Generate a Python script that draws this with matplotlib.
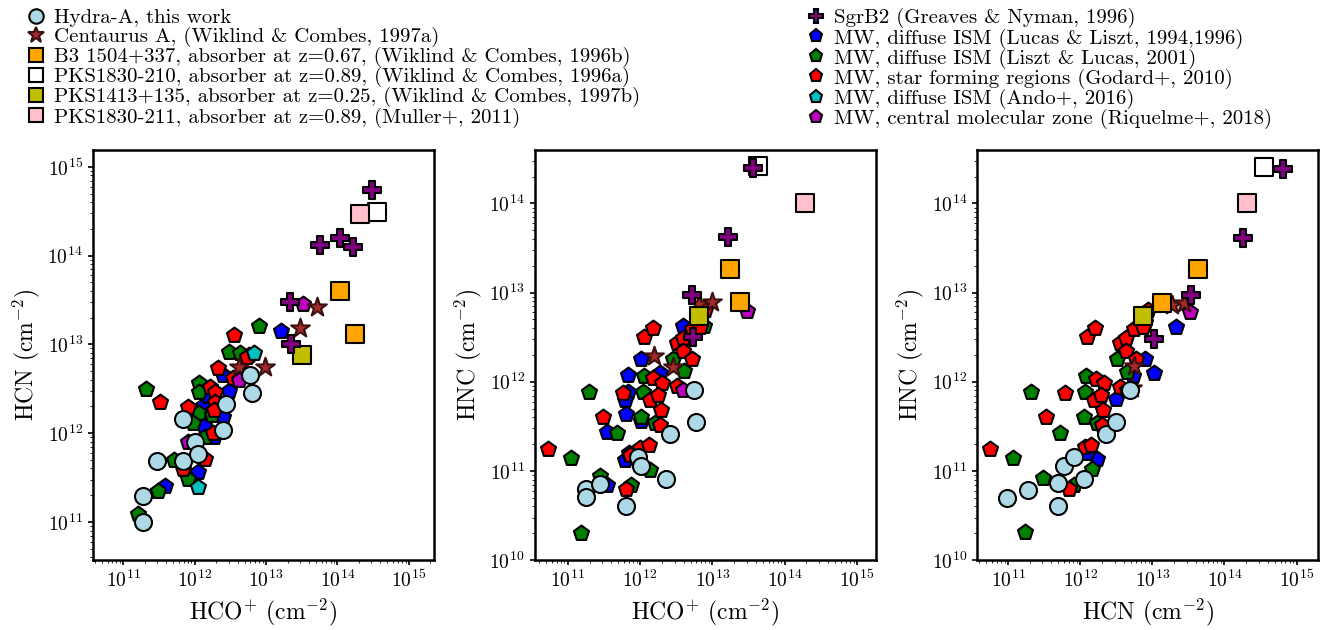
import matplotlib
matplotlib.use("Agg")
import matplotlib.pyplot as plt
import numpy as np
from matplotlib.lines import Line2D

plt.rcParams['font.family'] = 'serif'
plt.rcParams['font.serif'] = ['cmr10', 'DejaVu Serif']
plt.rcParams['mathtext.fontset'] = 'cm'
plt.rcParams['axes.formatter.use_mathtext'] = True
plt.rcParams['axes.unicode_minus'] = False

# ---- data: log10 column densities, per panel (x, y) ----
# Panel 1: HCO+ vs HCN ; Panel 2: HCO+ vs HNC ; Panel 3: HCN vs HNC
hydra_p1 = [(11.28,11.0),(11.28,11.29),(11.47,11.69),(11.84,12.16),(11.84,11.69),(12.0,11.90),(12.04,11.77),(12.39,12.03),(12.44,12.33),(12.78,12.65),(12.80,12.45)]
hydra_p2 = [(11.25,10.8),(11.25,10.71),(11.44,10.85),(11.81,10.61),(11.97,11.16),(12.01,11.05),(12.36,10.91),(12.42,11.41),(12.74,11.91),(12.77,11.55)]
hydra_p3 = [(10.98,10.7),(11.28,10.79),(11.69,10.86),(11.69,10.61),(11.77,11.05),(11.91,11.16),(12.05,10.91),(12.36,11.41),(12.49,11.55),(12.69,11.91)]

cena_p1 = [(12.62,12.74),(12.99,12.74),(13.47,13.18),(13.71,13.42)]
cena_p2 = [(12.19,12.29),(12.45,12.16),(12.81,12.87),(13.0,12.9)]
cena_p3 = [(12.72,11.93),(12.74,12.18),(13.27,12.86),(13.44,12.88)]

b3_p1 = [(14.04,13.6),(14.25,13.12)]
b3_p2 = [(13.24,13.27),(13.39,12.89)]
b3_p3 = [(13.63,13.27),(13.14,12.88)]

pks210_p1 = [(14.56,14.49)]
pks210_p2 = [(13.63,14.42)]
pks210_p3 = [(14.55,14.41)]

pks1413_p1 = [(13.51,12.88)]
pks1413_p2 = [(12.81,12.74)]
pks1413_p3 = [(12.87,12.74)]

pks211_p1 = [(14.32,14.47)]
pks211_p2 = [(14.28,14.01)]
pks211_p3 = [(14.31,14.0)]

sgrb2_p1 = [(14.48,14.74),(14.03,14.2),(14.22,14.1),(13.76,14.12),(13.33,13.48),(13.35,13.0)]
sgrb2_p2 = [(13.56,14.4),(13.22,13.62),(12.72,12.97),(12.73,12.5)]
sgrb2_p3 = [(14.81,14.39),(14.26,13.61),(13.53,12.97),(13.03,12.48)]

lucas_p1 = [(13.21,13.15),(11.59,11.41),(12.05,11.56),(12.48,12.48),(12.39,12.18),(12.13,12.08),(12.11,12.31),(12.27,11.96),(12.76,12.88),(12.18,12.42),(12.39,12.65)]
lucas_p2 = [(11.54,10.84),(11.79,11.12),(11.84,12.08),(11.84,11.89),(11.79,11.8),(11.81,11.64),(11.54,11.44),(12.01,12.25),(12.01,11.56),(12.28,12.1),(12.6,12.63),(11.85,11.2)]
lucas_p3 = [(13.33,12.61),(13.03,12.1),(12.9,12.26),(12.73,12.06),(12.5,11.81),(12.23,11.13),(12.09,11.2)]

liszt_p1 = [(11.32,12.5),(11.21,11.09),(11.48,11.35),(11.71,11.7),(11.90,11.48),(12.06,12.56),(12.06,12.46),(12.06,12.23),(11.97,12.11),(12.15,11.96),(12.24,12.2),(12.48,12.91),(12.64,12.9),(12.9,13.21)]
liszt_p2 = [(11.19,10.3),(11.04,11.15),(11.29,11.89),(11.44,10.94),(11.68,11.42),(11.88,10.84),(12.01,11.6),(12.05,12.06),(12.04,11.89),(12.14,11.01),(12.21,11.54),(12.46,12.26),(12.61,12.12),(12.88,12.63)]
liszt_p3 = [(11.23,10.31),(11.07,11.15),(11.32,11.89),(11.48,10.92),(11.72,11.42),(11.91,10.84),(12.05,11.6),(12.08,12.06),(12.07,11.89),(12.17,11.02),(12.23,11.54),(12.51,12.25),(12.65,12.11),(12.9,12.67)]

godard_p1 = [(11.51,12.35),(11.90,12.29),(11.83,11.6),(12.15,11.71),(12.22,12.52),(12.29,12.46),(12.29,12.35),(12.27,12.26),(12.25,12.0),(12.33,12.73),(12.55,13.1),(12.53,12.62),(12.73,12.86)]
godard_p2 = [(10.72,11.25),(11.49,11.61),(11.76,11.87),(11.81,10.8),(11.86,11.18),(12.0,11.26),(12.12,11.29),(12.06,12.5),(12.18,12.6),(12.18,12.04),(12.30,11.99),(12.14,11.79),(12.25,11.85),(12.29,11.68),(12.27,11.52),(12.51,12.43),(12.6,12.49),(12.6,12.35),(12.72,12.25),(12.51,11.95),(12.72,12.59),(12.83,12.61),(12.9,12.8)]
godard_p3 = [(10.75,11.25),(11.53,11.61),(11.79,11.87),(11.84,10.8),(12.07,11.27),(12.15,11.29),(12.09,12.5),(12.21,12.6),(12.22,12.03),(12.33,11.99),(12.19,11.79),(12.29,11.85),(12.32,11.68),(12.3,11.52),(12.55,12.43),(12.63,12.49),(12.64,12.35),(12.78,12.25),(12.55,11.94),(12.75,12.59),(12.87,12.61),(12.94,12.8)]

ando_p1 = [(12.04,11.39),(12.83,12.9)]
ando_p2 = []
ando_p3 = []

riq_p1 = [(13.52,13.46),(12.62,12.6),(11.90,11.9)]
riq_p2 = [(13.48,12.79),(12.6,11.91)]
riq_p3 = [(13.52,12.78),(12.65,11.91)]

datasets = [
    ("MW, diffuse ISM (Lucas & Liszt, 1994,1996)", 'p', 'blue', 130, 'black', lucas_p1, lucas_p2, lucas_p3),
    ("MW, diffuse ISM (Liszt & Lucas, 2001)", 'p', 'green', 130, 'black', liszt_p1, liszt_p2, liszt_p3),
    ("MW, star forming regions (Godard+, 2010)", 'p', 'red', 130, 'black', godard_p1, godard_p2, godard_p3),
    ("MW, diffuse ISM (Ando+, 2016)", 'p', 'c', 130, 'black', ando_p1, ando_p2, ando_p3),
    ("MW, central molecular zone (Riquelme+, 2018)", 'p', 'm', 130, 'black', riq_p1, riq_p2, riq_p3),
    ("Centaurus A, (Wiklind & Combes, 1997a)", '*', 'brown', 200, '#3a1010', cena_p1, cena_p2, cena_p3),
    ("B3 1504+337, absorber at z=0.67, (Wiklind & Combes, 1996b)", 's', 'orange', 150, 'black', b3_p1, b3_p2, b3_p3),
    ("PKS1830-210, absorber at z=0.89, (Wiklind & Combes, 1996a)", 's', 'white', 150, 'black', pks210_p1, pks210_p2, pks210_p3),
    ("PKS1413+135, absorber at z=0.25, (Wiklind & Combes, 1997b)", 's', 'y', 150, 'black', pks1413_p1, pks1413_p2, pks1413_p3),
    ("PKS1830-211, absorber at z=0.89, (Muller+, 2011)", 's', 'pink', 150, 'black', pks211_p1, pks211_p2, pks211_p3),
    ("SgrB2 (Greaves & Nyman, 1996)", 'P', 'purple', 160, 'black', sgrb2_p1, sgrb2_p2, sgrb2_p3),
    ("Hydra-A, this work", 'o', 'lightblue', 150, 'black', hydra_p1, hydra_p2, hydra_p3),
]

fig = plt.figure(figsize=(13.43, 6.3), dpi=100)
w = 0.254; b = 0.111; h = 0.651
axes = [fig.add_axes([0.069, b, w, h]), fig.add_axes([0.398, b, w, h]), fig.add_axes([0.7275, b, w, h])]
xl = ["HCO$^{+}$ (cm$^{-2}$)", "HCO$^{+}$ (cm$^{-2}$)", "HCN (cm$^{-2}$)"]
yl = ["HCN (cm$^{-2}$)", "HNC (cm$^{-2}$)", "HNC (cm$^{-2}$)"]
ylims = [(10**10.57, 10**15.19), (1e10, 10**14.6), (1e10, 10**14.6)]
xlims = [(10**10.57, 10**15.35), (10**10.54, 10**15.26), (10**10.57, 10**15.3)]

for i, ax in enumerate(axes):
    for lab, m, c, s, ec, *pts in datasets:
        p = pts[i]
        if not p:
            continue
        arr = np.array(p)
        ax.scatter(10**arr[:, 0], 10**arr[:, 1], marker=m, s=s, c=c, edgecolors=ec, linewidths=1.5, zorder=3)
    ax.set_xscale('log'); ax.set_yscale('log')
    ax.set_xlim(*xlims[i]); ax.set_ylim(*ylims[i])
    ax.set_xticks([1e11, 1e12, 1e13, 1e14, 1e15])
    ax.set_xlabel(xl[i], fontsize=17)
    ax.set_ylabel(yl[i], fontsize=17)
    ax.tick_params(labelsize=14, width=1.2)
    for sp in ax.spines.values():
        sp.set_linewidth(1.8)

def handle(lab, m, c, s, ec):
    return Line2D([], [], marker=m, linestyle='none', markersize=np.sqrt(s) * 0.85,
                  markerfacecolor=c, markeredgecolor=ec, markeredgewidth=1.5, label=lab)

order_left = [11, 5, 6, 7, 8, 9]
order_right = [10, 0, 1, 2, 3, 4]
hl = [handle(*datasets[k][:5]) for k in order_left]
hr = [handle(*datasets[k][:5]) for k in order_right]
kw = dict(frameon=False, fontsize=15, handletextpad=0.3, labelspacing=0.0, borderaxespad=0, handlelength=1.1)
fig.legend(handles=hl, loc='upper left', bbox_to_anchor=(0.012, 1.0), **kw)
fig.legend(handles=hr, loc='upper left', bbox_to_anchor=(0.593, 1.0), **kw)

fig.savefig("out.png", dpi=100)
